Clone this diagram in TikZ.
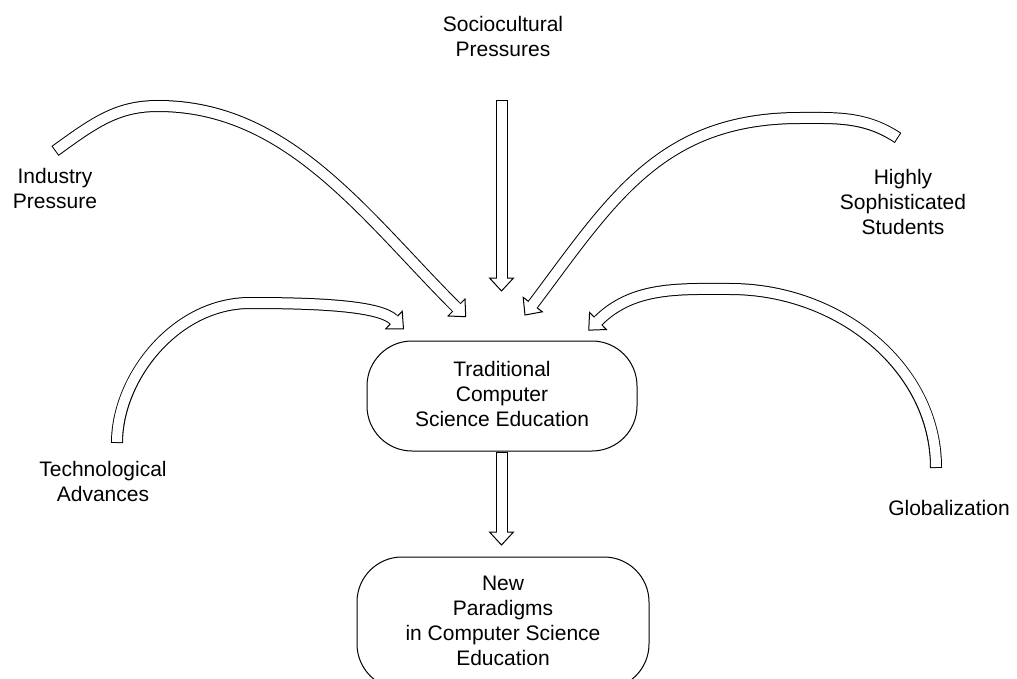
\documentclass[tikz,border=0pt]{standalone}
\usepackage{fontspec}
\setmainfont{Liberation Sans}
\usetikzlibrary{decorations.markings}

% stacked, centred lines whose baseline is the first line's baseline
\newcommand\txtlines[1]{\begin{tabular}[t]{@{}c@{}}#1\end{tabular}}
\newcommand\boxlines[1]{\begin{tabular}{@{}c@{}}#1\end{tabular}}

\tikzset{
  txt/.style={font=\fontsize{21}{25}\selectfont, inner sep=0pt, anchor=base},
  stage/.style={draw, line width=1pt, rounded corners=45pt, inner sep=0pt,
    font=\fontsize{21}{25}\selectfont},
  % open triangular head, placed a hair before the end of the path
  headtip/.style={decoration={markings, mark=at position -0.5pt with {
      \draw[black, fill=white, line width=1pt, line join=miter]
        (0.5pt,-12pt) -- (13.5pt,0pt) -- (0.5pt,12pt) -- cycle;
      \fill[white] (-0.7pt,-5pt) rectangle (1.5pt,5pt);
  }}},
  blockarrow/.style={draw=black, line width=12pt, line cap=butt,
    postaction={draw=white, line width=10pt, shorten <=1pt},
    postaction={headtip, decorate}},
}

\begin{document}
\begin{tikzpicture}[x=1pt, y=-1pt]
\useasboundingbox (0,0) rectangle (1017,679);

% labels
\node[txt] (soc)  at (503,32)  {\txtlines{Sociocultural\\Pressures}};
\node[txt] (ind)  at (55,184)  {\txtlines{Industry\\Pressure}};
\node[txt] (hi)   at (903,185) {\txtlines{Highly\\Sophisticated\\Students}};
\node[txt] (tech) at (103,476) {\txtlines{Technological\\Advances}};
\node[txt] (glob) at (949,515) {\txtlines{Globalization}};

% the two stages
\node[stage, minimum width=270pt, minimum height=110pt] (trad) at (502,396)
  {\boxlines{Traditional\\Computer\\Science Education}};
\node[stage, minimum width=292pt, minimum height=132pt] (newp) at (503,623)
  {\boxlines{New\\Paradigms\\in Computer Science\\Education}};

% arrow tails and heads
\coordinate (socT)  at (501.5,100);
\coordinate (socH)  at (501.5,278);
\coordinate (indT)  at (55,151);
\coordinate (indH)  at (456.5,307.5);
\coordinate (techT) at (117,443);
\coordinate (techH) at (394,320);
\coordinate (hiT)   at (898,138);
\coordinate (hiH)   at (532.8,304.6);
\coordinate (globT) at (936,468);
\coordinate (globH) at (598,321);
\coordinate (tradH) at (501.5,532);

% pressures acting on the traditional curriculum
\draw[blockarrow] (socT) -- (socH);
\draw[blockarrow] (indT) .. controls (95.5,121.5) and (118,106) .. (158,106)
  .. controls (288,106) and (364.6,215.6) .. (indH);
\draw[blockarrow] (techT) .. controls (117,378) and (175,303) .. (250,303)
  .. controls (320,303) and (380,306) .. (techH);
\draw[blockarrow] (hiT) .. controls (865,116) and (835,118) .. (800,118)
  .. controls (660,118) and (611,200.6) .. (hiH);
\draw[blockarrow] (globT) .. controls (936,368) and (840,289) .. (730,289)
  .. controls (680,289) and (633,286) .. (globH);

% towards the new paradigms
\draw[blockarrow] (trad.south -| tradH) -- (tradH);
\end{tikzpicture}
\end{document}
